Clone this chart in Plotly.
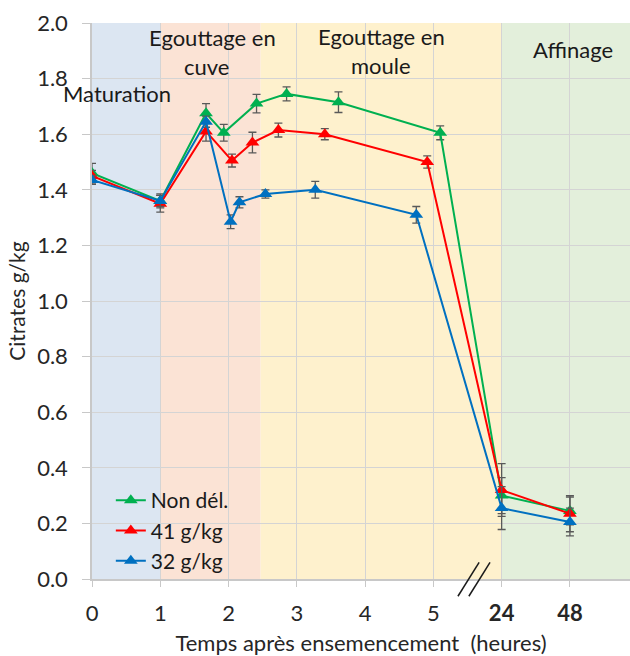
import plotly.graph_objects as go

# ---- data ----
series_names = ["Non dél.", "41 g/kg", "32 g/kg"]
series_colors = ["#00B050", "#FF0000", "#0070C0"]

hours_green = [0, 1, 1.67, 1.93, 2.41, 2.85, 3.61, 5.1, 24, 48]
vals_green = [1.46, 1.36, 1.675, 1.605, 1.71, 1.745, 1.715, 1.605, 0.30, 0.245]
err_green = [0.035, 0.025, 0.035, 0.03, 0.033, 0.025, 0.037, 0.025, 0.065, 0.05]

hours_red = [0, 1, 1.67, 2.05, 2.35, 2.73, 3.41, 4.91, 24, 48]
vals_red = [1.45, 1.35, 1.61, 1.505, 1.57, 1.615, 1.60, 1.50, 0.32, 0.235]
err_red = [0.02, 0.03, 0.035, 0.023, 0.037, 0.025, 0.02, 0.022, 0.095, 0.065]

hours_blue = [0, 1, 1.67, 2.03, 2.16, 2.54, 3.27, 4.75, 24, 48]
vals_blue = [1.435, 1.36, 1.645, 1.285, 1.355, 1.385, 1.40, 1.31, 0.255, 0.205]
err_blue = [0.015, 0.02, 0.02, 0.025, 0.02, 0.015, 0.03, 0.03, 0.077, 0.05]

tick_hours = [0, 1, 2, 3, 4, 5, 24, 48]
tick_labels = ["0", "1", "2", "3", "4", "5", "<b>24</b>", "<b>48</b>"]

phase_bounds = [(0, 1), (1, 2.47), (2.47, 24), (24, 60)]
phase_colors = ["#DCE6F2", "#FBE3D5", "#FEF1CD", "#E3EFDB"]

# broken axis: hours beyond 5 are placed at fixed positions
BREAK_POS = {24: 6, 48: 7, 60: 7.88}


def pos(h):
    return BREAK_POS.get(h, h)


XMAX = 7.88
FONT = "Lato, Open Sans, sans-serif"
fig = go.Figure()

# phase bands
for (a, b), c in zip(phase_bounds, phase_colors):
    fig.add_shape(type="rect", xref="x", yref="y", x0=pos(a), x1=pos(b), y0=0, y1=2,
                  fillcolor=c, line_width=0, layer="below")

for name, col, hs, vs, es in zip(series_names, series_colors,
                                 [hours_green, hours_red, hours_blue],
                                 [vals_green, vals_red, vals_blue],
                                 [err_green, err_red, err_blue]):
    fig.add_trace(go.Scatter(
        x=[pos(h) for h in hs], y=vs, name=name, mode="lines+markers",
        legendgroup=name,
        line=dict(color=col, width=2),
        marker=dict(symbol="triangle-up", size=12, color=col),
        error_y=dict(type="data", array=es, visible=True, color="#595959",
                     thickness=1.3, width=4),
    ))

# phase labels
ann_font = dict(family=FONT, size=22, color="#1a1a1a")
labels = [
    ("Maturation", 0.36, 1.745),
    ("Egouttage en", 1.77, 1.948),
    ("cuve", 1.67, 1.845),
    ("Egouttage en", 4.24, 1.95),
    ("moule", 4.24, 1.847),
    ("Affinage", 7.04, 1.903),
]
for t, x, y in labels:
    fig.add_annotation(text=t, x=x, y=y, xref="x", yref="y", showarrow=False,
                       font=ann_font, xanchor="center", yanchor="middle")

# axis-break marks
for xa, xb in [(5.36, 5.67), (5.52, 5.83)]:
    fig.add_shape(type="line", xref="paper", yref="paper",
                  x0=xa / XMAX, x1=xb / XMAX, y0=-0.031, y1=0.030,
                  line=dict(color="#1a1a1a", width=1.5))

fig.update_layout(
    width=630, height=656,
    margin=dict(l=92, r=0, t=23, b=77),
    paper_bgcolor="white", plot_bgcolor="white",
    font=dict(family=FONT, size=22, color="#262626"),
    showlegend=True,
    legend=dict(x=0.035, y=0.178, xanchor="left", yanchor="top",
                bgcolor="rgba(0,0,0,0)", tracegroupgap=0,
                font=dict(family=FONT, size=21, color="#1a1a1a"),
                itemwidth=30),
    xaxis=dict(range=[0, XMAX], tickvals=[pos(h) for h in tick_hours], ticktext=tick_labels,
               showgrid=True, gridcolor="#D4D4D4", gridwidth=1,
               showline=True, linecolor="#C8C8C8", linewidth=1.5,
               ticks="outside", ticklen=6, tickcolor="#C8C8C8",
               ticklabelstandoff=8, automargin=False,
               zeroline=False,
               title=dict(text="Temps après ensemencement  (heures)", font=dict(size=22), standoff=12)),
    yaxis=dict(range=[0, 2], dtick=0.2, tickformat=".1f",
               showgrid=True, gridcolor="#D4D4D4", gridwidth=1,
               showline=True, linecolor="#C8C8C8", linewidth=1.5,
               ticks="outside", ticklen=8, tickcolor="#C8C8C8",
               ticklabelstandoff=10, automargin=False,
               zeroline=False,
               title=dict(text="Citrates g/kg", font=dict(size=21), standoff=6)),
)

fig.write_html("out.html", config={"displayModeBar": False},
               post_script="document.body.style.margin='0';document.body.style.overflow='hidden';")
